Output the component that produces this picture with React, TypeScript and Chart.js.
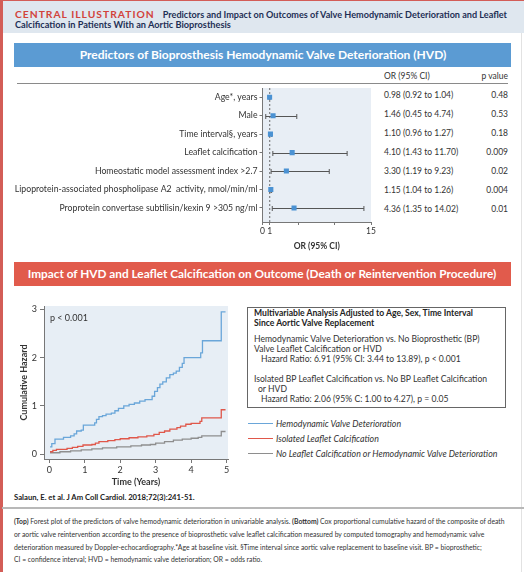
import React, { useEffect, useRef } from "react";
import { Chart, registerables } from "chart.js";
Chart.register(...registerables);

// ---------- Forest plot data ----------
const predictors = [
  "Age*, years",
  "Male",
  "Time interval§, years",
  "Leaflet calcification",
  "Homeostatic model assessment index >2.7",
  "Lipoprotein-associated phospholipase A2  activity, nmol/min/ml",
  "Proprotein convertase subtilisin/kexin 9 >305 ng/ml",
];
const oddsRatios = [0.98, 1.46, 1.1, 4.1, 3.3, 1.15, 4.36];
const ciLower = [0.92, 0.45, 0.96, 1.43, 1.19, 1.04, 1.35];
const ciUpper = [1.04, 4.74, 1.27, 11.7, 9.23, 1.26, 14.02];
const pValues = ["0.48", "0.53", "0.18", "0.009", "0.02", "0.004", "0.01"];
const orTicks = [0, 1, 5, 10, 15];
const orTickLabels = ["0", "1", "", "", "15"];

// ---------- Cumulative hazard data ----------
const hvdTime = [0.02, 0.07, 0.16, 0.4, 0.6, 0.7, 0.77, 0.9, 0.96, 1.28, 1.33, 1.4, 1.5, 1.6, 1.75, 1.85, 1.95, 2.1, 2.25, 2.4, 2.55, 2.7, 2.9, 2.97, 3.05, 3.12, 3.2, 3.3, 3.4, 3.5, 3.58, 3.67, 3.75, 3.8, 4.27, 4.32, 4.85, 4.97];
const hvdHazard = [0.15, 0.22, 0.31, 0.35, 0.38, 0.42, 0.48, 0.5, 0.6, 0.65, 0.72, 0.78, 0.8, 0.83, 0.85, 0.9, 0.95, 1.0, 1.03, 1.06, 1.1, 1.13, 1.2, 1.3, 1.38, 1.45, 1.5, 1.58, 1.65, 1.68, 1.72, 1.8, 1.88, 2.0, 2.1, 2.35, 2.95, 2.95];
const calcTime = [0.02, 0.1, 0.2, 0.5, 0.65, 0.8, 0.95, 1.2, 1.3, 1.4, 1.65, 1.85, 2.0, 2.25, 2.5, 2.75, 2.95, 3.1, 3.25, 3.4, 3.6, 3.7, 3.85, 4.0, 4.25, 4.3, 4.85, 4.97];
const calcHazard = [0.05, 0.08, 0.1, 0.12, 0.14, 0.16, 0.19, 0.2, 0.23, 0.26, 0.28, 0.3, 0.32, 0.34, 0.36, 0.38, 0.41, 0.45, 0.48, 0.52, 0.55, 0.58, 0.62, 0.64, 0.68, 0.75, 0.92, 0.92];
const noneTime = [0.02, 0.3, 0.6, 0.9, 1.2, 1.5, 1.9, 2.3, 2.6, 2.85, 3.0, 3.25, 3.5, 3.75, 4.0, 4.2, 4.3, 4.85, 4.97];
const noneHazard = [0.03, 0.05, 0.07, 0.09, 0.11, 0.13, 0.15, 0.17, 0.19, 0.2, 0.23, 0.26, 0.29, 0.31, 0.33, 0.35, 0.38, 0.47, 0.47];
const timeTicks = [0, 1, 2, 3, 4, 5];
const hazardTicks = [0, 1, 2, 3];
const seriesNames = [
  "Hemodynamic Valve Deterioration",
  "Isolated Leaflet Calcification",
  "No Leaflet Calcification or Hemodynamic Valve Deterioration",
];
const seriesColors = ["#6aa6d9", "#e0574a", "#8e8e8e"];

const FONT = "Lato, 'Noto Sans', sans-serif";

function T(props: {
  x: number;
  y: number;
  size: number;
  bold?: boolean;
  italic?: boolean;
  color?: string;
  right?: boolean;
  center?: boolean;
  ls?: number;
  children: React.ReactNode;
}) {
  const lh = props.size * 1.3;
  const style: React.CSSProperties = {
    position: "absolute",
    top: props.y - lh / 2,
    lineHeight: lh + "px",
    fontSize: props.size,
    fontWeight: props.bold ? 700 : 400,
    fontStyle: props.italic ? "italic" : "normal",
    color: props.color || "#333",
    whiteSpace: "nowrap",
    letterSpacing: props.ls ? props.ls : undefined,
  };
  if (props.right) style.right = 524 - props.x;
  else if (props.center) {
    style.left = props.x - 300;
    style.width = 600;
    style.textAlign = "center";
  } else style.left = props.x;
  return <div style={style}>{props.children}</div>;
}

function ForestChart() {
  const ref = useRef<HTMLCanvasElement>(null);
  useEffect(() => {
    const bgPlugin = {
      id: "forestBg",
      beforeDraw(chart: any) {
        const { ctx, chartArea: a } = chart;
        ctx.save();
        ctx.fillStyle = "#e8eef5";
        ctx.fillRect(a.left, a.top, a.right - a.left, a.bottom - a.top);
        ctx.restore();
      },
      beforeDatasetsDraw(chart: any) {
        const { ctx, chartArea: a } = chart;
        const xs = chart.scales.x;
        const ys = chart.scales.y;
        ctx.save();
        // reference line at OR = 1
        const x1 = xs.getPixelForValue(1);
        ctx.strokeStyle = "#6b6b6b";
        ctx.lineWidth = 1;
        ctx.setLineDash([2, 2]);
        ctx.beginPath();
        ctx.moveTo(x1, a.top);
        ctx.lineTo(x1, a.bottom);
        ctx.stroke();
        ctx.setLineDash([]);
        // confidence intervals
        ctx.strokeStyle = "#555";
        for (let i = 0; i < oddsRatios.length; i++) {
          const y = Math.round(ys.getPixelForValue(i)) + 0.5;
          const l = xs.getPixelForValue(ciLower[i]);
          const r = xs.getPixelForValue(ciUpper[i]);
          ctx.beginPath();
          ctx.moveTo(l, y);
          ctx.lineTo(r, y);
          ctx.moveTo(l, y - 2.5);
          ctx.lineTo(l, y + 2.5);
          ctx.moveTo(r, y - 2.5);
          ctx.lineTo(r, y + 2.5);
          ctx.stroke();
        }
        ctx.restore();
      },
    };
    const chart = new Chart(ref.current!, {
      type: "scatter",
      data: {
        datasets: [
          {
            data: oddsRatios.map((v, i) => ({ x: v, y: i })),
            pointStyle: "rect",
            pointRadius: 3.6,
            backgroundColor: "#4b92d3",
            borderColor: "#4b92d3",
            borderWidth: 0,
          },
        ],
      },
      options: {
        responsive: false,
        animation: false,
        layout: { padding: { top: 0, right: 6, left: 0, bottom: 0 } },
        plugins: { legend: { display: false }, tooltip: { enabled: false } },
        scales: {
          x: {
            type: "linear",
            min: 0,
            max: 15,
            afterBuildTicks: (s: any) => {
              s.ticks = orTicks.map((v) => ({ value: v }));
            },
            afterFit: (s: any) => {
              s.height = 30;
              s.paddingLeft = 0;
              s.paddingRight = 0;
            },
            ticks: {
              autoSkip: false,
              maxRotation: 0,
              padding: 1,
              color: "#333",
              font: { family: FONT, size: 8.5 },
              callback: (v: any) => orTickLabels[orTicks.indexOf(Number(v))] ?? "",
            },
            grid: { drawOnChartArea: false, drawTicks: true, tickLength: 3, color: "#777" },
            border: { color: "#777", width: 1 },
            title: {
              display: true,
              text: "OR (95% CI)",
              color: "#333",
              padding: { top: 0, bottom: 1 },
              font: { family: FONT, size: 8.5, weight: "bold" },
            },
          },
          y: {
            type: "linear",
            reverse: true,
            min: -0.5,
            max: 6.76,
            afterBuildTicks: (s: any) => {
              s.ticks = predictors.map((_, i) => ({ value: i }));
            },
            afterFit: (s: any) => {
              s.width = 252.5;
              s.paddingTop = 0;
              s.paddingBottom = 0;
            },
            ticks: {
              autoSkip: false,
              padding: 2,
              color: "#333",
              font: { family: FONT, size: 8.7 },
              callback: (v: any) => predictors[Number(v)] ?? "",
            },
            grid: { drawOnChartArea: false, drawTicks: true, tickLength: 3, color: "#777" },
            border: { color: "#777", width: 1 },
          },
        },
      },
      plugins: [bgPlugin],
    } as any);
    return () => chart.destroy();
  }, []);
  return (
    <canvas
      ref={ref}
      width={367}
      height={168}
      style={{ position: "absolute", left: 10, top: 84, width: 367, height: 168 }}
    />
  );
}

function HazardChart() {
  const ref = useRef<HTMLCanvasElement>(null);
  useEffect(() => {
    const bgPlugin = {
      id: "hazBg",
      beforeDraw(chart: any) {
        const { ctx, chartArea: a } = chart;
        ctx.save();
        ctx.fillStyle = "#e7eef5";
        ctx.fillRect(a.left, a.top, a.right - a.left, a.bottom - a.top);
        ctx.restore();
      },
    };
    const pts = (t: number[], h: number[]) => t.map((x, i) => ({ x, y: h[i] }));
    const chart = new Chart(ref.current!, {
      type: "line",
      data: {
        datasets: [
          { label: seriesNames[0], data: pts(hvdTime, hvdHazard), borderColor: seriesColors[0] },
          { label: seriesNames[1], data: pts(calcTime, calcHazard), borderColor: seriesColors[1] },
          { label: seriesNames[2], data: pts(noneTime, noneHazard), borderColor: seriesColors[2] },
        ].map((d) => ({ ...d, stepped: true, pointRadius: 0, borderWidth: 1.3, fill: false })),
      },
      options: {
        responsive: false,
        animation: false,
        layout: { padding: { top: 6, right: 6, left: 0, bottom: 0 } },
        plugins: { legend: { display: false }, tooltip: { enabled: false } },
        scales: {
          x: {
            type: "linear",
            min: -0.15,
            max: 5.04,
            afterBuildTicks: (s: any) => {
              s.ticks = timeTicks.map((v) => ({ value: v }));
            },
            afterFit: (s: any) => {
              s.height = 28;
              s.paddingLeft = 0;
              s.paddingRight = 0;
            },
            ticks: { color: "#333", padding: 2, maxRotation: 0, font: { family: FONT, size: 9 } },
            grid: { drawOnChartArea: false, drawTicks: true, tickLength: 4, color: "#777" },
            border: { color: "#777", width: 1 },
            title: {
              display: true,
              text: "Time (Years)",
              color: "#333",
              padding: { top: 0, bottom: 0 },
              font: { family: FONT, size: 9, weight: "bold" },
            },
          },
          y: {
            type: "linear",
            min: -0.1,
            max: 3.07,
            afterBuildTicks: (s: any) => {
              s.ticks = hazardTicks.map((v) => ({ value: v }));
            },
            afterFit: (s: any) => {
              s.width = 30;
              s.paddingTop = 0;
              s.paddingBottom = 0;
            },
            ticks: { color: "#333", padding: 3, font: { family: FONT, size: 9 } },
            grid: { drawOnChartArea: false, drawTicks: true, tickLength: 4, color: "#777" },
            border: { color: "#777", width: 1 },
            title: {
              display: true,
              text: "Cumulative Hazard",
              color: "#333",
              padding: { top: 5, bottom: 0 },
              font: { family: FONT, size: 9, weight: "bold" },
            },
          },
        },
      },
      plugins: [bgPlugin],
    } as any);
    return () => chart.destroy();
  }, []);
  return (
    <canvas
      ref={ref}
      width={220}
      height={187}
      style={{ position: "absolute", left: 14, top: 300, width: 220, height: 187 }}
    />
  );
}

export default function App() {
  const rowY = (i: number) => 96 + 19 * i;
  const fmt = (v: number) => v.toFixed(2);
  return (
    <div
      style={{
        position: "absolute",
        left: 0,
        top: 0,
        width: 524,
        height: 572,
        background: "#fff",
        overflow: "hidden",
        fontFamily: FONT,
      }}
    >
      {/* header band */}
      <div style={{ position: "absolute", left: 0, top: 0, width: 524, height: 33, background: "#dfe7ef" }} />
      <div style={{ position: "absolute", left: 0, top: 0, width: 524, height: 1, background: "#d35d57" }} />
      <div style={{ position: "absolute", left: 0, top: 0, width: 2.5, height: 572, background: "#d35d57" }} />
      <div style={{ position: "absolute", left: 521, top: 33, width: 1, height: 539, background: "#e2e2e2" }} />
      <div style={{ position: "absolute", left: 15, top: 5, lineHeight: "14px", whiteSpace: "nowrap" }}>
        <span style={{ color: "#d2423b", fontWeight: 700, fontSize: 10.3, letterSpacing: 1 }}>CENTRAL ILLUSTRATION</span>
        <span style={{ color: "#1e2f55", fontWeight: 700, fontSize: 9.1, marginLeft: 8 }}>
          Predictors and Impact on Outcomes of Valve Hemodynamic Deterioration and Leaflet
        </span>
      </div>
      <T x={15} y={25} size={9.2} bold color="#1e2f55">
        Calcification in Patients With an Aortic Bioprosthesis
      </T>

      {/* forest section */}
      <div style={{ position: "absolute", left: 14, top: 43, width: 497, height: 24, background: "#5b9bd3" }} />
      <T x={263} y={55} size={12} bold color="#fff" center>
        Predictors of Bioprosthesis Hemodynamic Valve Deterioration (HVD)
      </T>
      <T x={384} y={77} size={8.5}>OR (95% CI)</T>
      <T x={508} y={77} size={8.5} right>p value</T>
      <div style={{ position: "absolute", left: 17, top: 83, width: 491, height: 1, background: "#8a8a8a" }} />
      {oddsRatios.map((v, i) => (
        <React.Fragment key={i}>
          <T x={384} y={rowY(i)} size={8.5}>
            {fmt(v)} ({fmt(ciLower[i])} to {fmt(ciUpper[i])})
          </T>
          <T x={508} y={rowY(i)} size={8.5} right>
            {pValues[i]}
          </T>
        </React.Fragment>
      ))}
      <ForestChart />

      {/* outcome section */}
      <div style={{ position: "absolute", left: 14, top: 262, width: 497, height: 24, background: "#e15b4c" }} />
      <T x={262} y={274} size={11.8} bold color="#fff" center>
        Impact of HVD and Leaflet Calcification on Outcome (Death or Reintervention Procedure)
      </T>
      <HazardChart />
      <T x={50} y={318} size={9}>p &lt; 0.001</T>

      <div
        style={{
          position: "absolute",
          left: 247,
          top: 307,
          width: 257,
          height: 99,
          border: "1px solid #666",
        }}
      />
      <T x={254} y={314} size={8.6} bold color="#222">Multivariable Analysis Adjusted to Age, Sex, Time Interval</T>
      <T x={254} y={324} size={8.6} bold color="#222">Since Aortic Valve Replacement</T>
      <T x={254} y={340} size={8.6}>Hemodynamic Valve Deterioration vs. No Bioprosthetic (BP)</T>
      <T x={254} y={350} size={8.6}>Valve Leaflet Calcification or HVD</T>
      <T x={261} y={360} size={8.6}>Hazard Ratio: 6.91 (95% CI: 3.44 to 13.89), p &lt; 0.001</T>
      <T x={254} y={380} size={8.6}>Isolated BP Leaflet Calcification vs. No BP Leaflet Calcification</T>
      <T x={258} y={390} size={8.6}>or HVD</T>
      <T x={261} y={400} size={8.6}>Hazard Ratio: 2.06 (95% C: 1.00 to 4.27), p = 0.05</T>

      {seriesNames.map((n, i) => (
        <React.Fragment key={n}>
          <div
            style={{
              position: "absolute",
              left: 248,
              top: 423 + 15 * i,
              width: 25,
              height: 1,
              background: seriesColors[i],
            }}
          />
          <T x={276} y={423.5 + 15 * i} size={8.8} italic>
            {n}
          </T>
        </React.Fragment>
      ))}

      <T x={14} y={497} size={7.7} bold color="#222">Salaun, E. et al. J Am Coll Cardiol. 2018;72(3):241-51.</T>
      <div style={{ position: "absolute", left: 2, top: 507, width: 522, height: 2, background: "#b8b8b8" }} />
      <T x={14} y={521} size={6.8}>
        <b>(Top)</b> Forest plot of the predictors of valve hemodynamic deterioration in univariable analysis. <b>(Bottom)</b> Cox
        proportional cumulative hazard of the composite of death
      </T>
      <T x={14} y={534} size={6.8}>
        or aortic valve reintervention according to the presence of bioprosthetic valve leaflet calcification measured by computed
        tomography and hemodynamic valve
      </T>
      <T x={14} y={547} size={6.8}>
        deterioration measured by Doppler-echocardiography.*Age at baseline visit. §Time interval since aortic valve replacement
        to baseline visit. BP = bioprosthetic;
      </T>
      <T x={14} y={559} size={6.8}>
        CI = confidence interval; HVD = hemodynamic valve deterioration; OR = odds ratio.
      </T>
    </div>
  );
}
